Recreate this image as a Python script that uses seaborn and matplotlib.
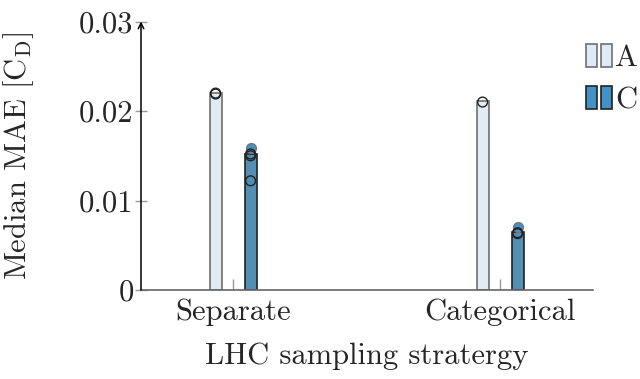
import matplotlib
matplotlib.use("Agg")
import matplotlib.pyplot as plt
from matplotlib.patches import Rectangle
from matplotlib.legend_handler import HandlerTuple
import numpy as np
import pandas as pd
import seaborn as sns

# data
strategies = ["Separate", "Categorical"]
models = ["A", "C"]
bar_mae = {"A": [0.0220, 0.0211], "C": [0.0152, 0.0065]}
# individual runs drawn as open circles
open_strategy = ["Separate", "Separate", "Separate", "Separate", "Separate", "Categorical", "Categorical", "Categorical"]
open_model = ["A", "A", "C", "C", "C", "A", "C", "C"]
open_mae = [0.0219, 0.0220, 0.0150, 0.0152, 0.0122, 0.0210, 0.0063, 0.0064]
# filled circles
fill_strategy = ["Separate", "Categorical"]
fill_model = ["C", "C"]
fill_mae = [0.0159, 0.0070]
yticks = [0, 0.01, 0.02, 0.03]
yticklabels = ["0", "0.01", "0.02", "0.03"]

colors = {"A": "#deebf7", "C": "#4292c6"}
edges = {"A": "#6f6f6f", "C": "#222222"}

sns.set_style("white")
plt.rcParams["font.family"] = ["cmr10", "DejaVu Serif"]
plt.rcParams["mathtext.fontset"] = "cm"
plt.rcParams["axes.formatter.use_mathtext"] = True
FS = 22

bars = pd.DataFrame([
    {"strategy": s, "model": m, "mae": bar_mae[m][i]}
    for m in models for i, s in enumerate(strategies)
])

fig = plt.figure(figsize=(6.4, 3.79), dpi=100)
ax = fig.add_axes([141 / 640, 1 - 290 / 379, 452 / 640, 268.5 / 379])

group_width = 0.262
sns.barplot(data=bars, x="strategy", y="mae", hue="model", order=strategies,
            hue_order=models, palette=colors, width=group_width, gap=0.657,
            linewidth=1.2, ax=ax, legend=False, zorder=2)
for cont, m in zip(ax.containers, models):
    for p in cont:
        p.set_edgecolor(edges[m])

# point offsets follow the dodged bars
offset = {m: (i - (len(models) - 1) / 2) * group_width / len(models) for i, m in enumerate(models)}

pts_open = pd.DataFrame({"strategy": open_strategy, "model": open_model, "mae": open_mae})
pts_open["x"] = [strategies.index(s) + offset[m] for s, m in zip(open_strategy, open_model)]
pts_fill = pd.DataFrame({"strategy": fill_strategy, "model": fill_model, "mae": fill_mae})
pts_fill["x"] = [strategies.index(s) + offset[m] for s, m in zip(fill_strategy, fill_model)]

sns.scatterplot(data=pts_fill, x="x", y="mae", color="#4292c6", edgecolor="#777777",
                s=50, linewidth=1.0, ax=ax, zorder=3, legend=False)
sns.scatterplot(data=pts_open, x="x", y="mae", facecolors="none", edgecolor="#222222",
                s=50, linewidth=1.0, ax=ax, zorder=4, legend=False)

ax.set_xlim(-0.345, 1.348)
ax.set_ylim(0, 0.03)
ax.set_xticks(range(len(strategies)))
ax.set_xticklabels(strategies, fontsize=FS)
ax.set_yticks(yticks)
ax.set_yticklabels(yticklabels, fontsize=FS)
ax.tick_params(axis="x", direction="in", length=8, width=1, color="#999999", pad=6)
ax.tick_params(axis="y", direction="inout", length=8.5, width=1, color="#999999", pad=1)
ax.tick_params(left=True, bottom=True)

for side in ["top", "right", "left"]:
    ax.spines[side].set_visible(False)
ax.spines["bottom"].set_color("#666666")
ax.spines["bottom"].set_linewidth(1.2)
ax.annotate("", xy=(0, 1.0), xytext=(0, 0), xycoords="axes fraction",
            arrowprops=dict(arrowstyle="->", color="black", lw=1.1, shrinkA=0, shrinkB=0),
            annotation_clip=False)

ax.set_xlabel("LHC sampling stratergy", fontsize=FS)
ax.set_ylabel(r"Median MAE [C$_\mathrm{D}$]", fontsize=FS)
ax.xaxis.set_label_coords(0.5, -0.195)
ax.yaxis.set_label_coords(-0.232, 0.5)

handles = [(Rectangle((0, 0), 1, 1, fc=colors[m], ec=edges[m], lw=1.2),
            Rectangle((0, 0), 1, 1, fc=colors[m], ec=edges[m], lw=1.2)) for m in models]
fig.legend(handles, models, loc="upper left", bbox_to_anchor=(586 / 640, 1 - 44 / 379),
           frameon=False, fontsize=FS, handlelength=0.85, handleheight=0.8,
           handletextpad=0.1, labelspacing=0.45, borderpad=0, borderaxespad=0,
           handler_map={tuple: HandlerTuple(ndivide=None, pad=0.12)})

fig.savefig("out.png", dpi=100)
